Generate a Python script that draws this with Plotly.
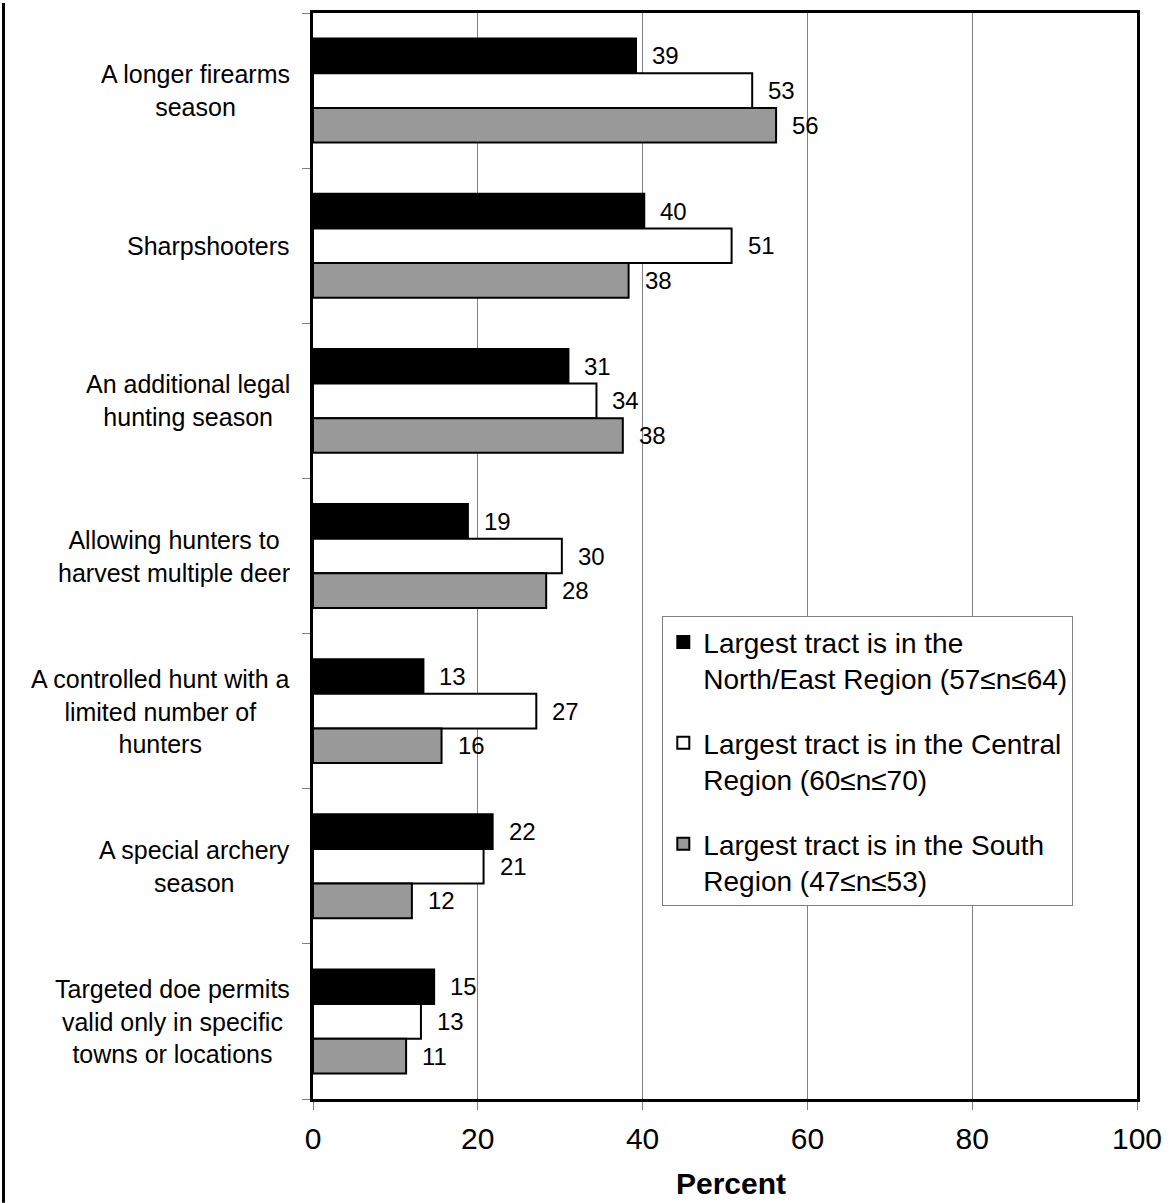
import plotly.graph_objects as go

# Data (percent)
categories = [
    "A longer firearms<br>season",
    "Sharpshooters",
    "An additional legal<br>hunting season",
    "Allowing hunters to<br>harvest multiple deer",
    "A controlled hunt with a<br>limited number of<br>hunters",
    "A special archery<br>season",
    "Targeted doe permits<br>valid only in specific<br>towns or locations",
]
north_east = [39.2, 40.2, 31.0, 18.8, 13.4, 21.8, 14.7]
central = [53.3, 50.8, 34.4, 30.2, 27.1, 20.7, 13.1]
south = [56.2, 38.3, 37.6, 28.3, 15.6, 12.0, 11.3]

series_names = [
    "Largest tract is in the<br>North/East Region (57≤n≤64)",
    "Largest tract is in the Central<br>Region (60≤n≤70)",
    "Largest tract is in the South<br>Region (47≤n≤53)",
]
series_values = [north_east, central, south]
series_colors = ["#000000", "#ffffff", "#999999"]

x_ticks = [0, 20, 40, 60, 80, 100]

W, H = 1172, 1203
ML, MR, MT, MB = 313, 31, 10, 104
PW, PH = W - ML - MR, H - MT - MB
BARGAP = 0.33
FONT = "Liberation Sans, Arial, sans-serif"

positions = list(range(len(categories)))

fig = go.Figure()
for i, (name, vals, col) in enumerate(zip(series_names, series_values, series_colors)):
    fig.add_trace(go.Bar(
        x=vals, y=positions, orientation="h", name=name,
        marker=dict(color=col, line=dict(color="#000000", width=2)),
        legendgroup=f"g{i}", hoverinfo="x+name",
    ))

# value labels just right of each bar end
bar_w = (1 - BARGAP) / len(series_values)
annotations = []
for j, vals in enumerate(series_values):
    off = (j - (len(series_values) - 1) / 2) * bar_w
    for k, v in enumerate(vals):
        annotations.append(dict(
            x=v, y=k + off, xref="x", yref="y", text=f"{v:.0f}",
            showarrow=False, xanchor="left", yanchor="middle", xshift=14,
            font=dict(size=24, color="#000000", family=FONT),
        ))

# centred multi-line category labels
for k, cat in enumerate(categories):
    annotations.append(dict(
        x=0, y=k, xref="paper", yref="y", text=cat, showarrow=False,
        xanchor="right", yanchor="middle", align="center", xshift=-21,
        font=dict(size=25, color="#000000", family=FONT),
    ))

annotations.append(dict(
    x=0.5, y=0, xref="paper", yref="paper", text="<b>Percent</b>",
    showarrow=False, xanchor="center", yanchor="top", yshift=-66, xshift=6,
    font=dict(size=30, color="#000000", family=FONT),
))

fig.update_layout(
    width=W, height=H,
    margin=dict(l=ML, r=MR, t=MT, b=MB),
    paper_bgcolor="white", plot_bgcolor="white",
    barmode="group", bargap=BARGAP, bargroupgap=0,
    font=dict(family=FONT, color="#000000"),
    showlegend=True,
    legend=dict(
        x=(664 - ML) / PW, y=(MT + PH - 615) / PH, xanchor="left", yanchor="top",
        bgcolor="white", bordercolor="#808080", borderwidth=1,
        font=dict(size=28, family=FONT, color="#000000"),
        traceorder="grouped", tracegroupgap=25, valign="top",
    ),
    annotations=annotations,
    shapes=[dict(
        type="line", xref="paper", yref="paper",
        x0=(2 - ML) / PW, x1=(2 - ML) / PW,
        y0=-MB / PH, y1=1 + MT / PH,
        line=dict(color="#000000", width=3),
    )],
)

fig.update_xaxes(
    range=[0, 100], tickvals=x_ticks, ticktext=[str(t) for t in x_ticks],
    showgrid=True, gridcolor="#808080", gridwidth=1, zeroline=False,
    showline=True, linecolor="#000000", linewidth=3, mirror=True,
    ticks="outside", ticklen=8, tickcolor="#808080", tickwidth=1,
    tickfont=dict(size=30, family=FONT, color="#000000"),
    ticklabelstandoff=3,
)
fig.update_yaxes(
    range=[len(categories) - 0.5, -0.5],
    tickvals=[k - 0.5 for k in range(len(categories) + 1)],
    showticklabels=False, showgrid=False, zeroline=False,
    showline=True, linecolor="#000000", linewidth=3, mirror=True,
    ticks="outside", ticklen=8, tickcolor="#808080", tickwidth=1,
)

# drop the default page margin so the figure sits at the window's corner
fig.write_html(
    "out.html",
    config={"displayModeBar": False},
    post_script="document.body.style.margin='0';",
)
